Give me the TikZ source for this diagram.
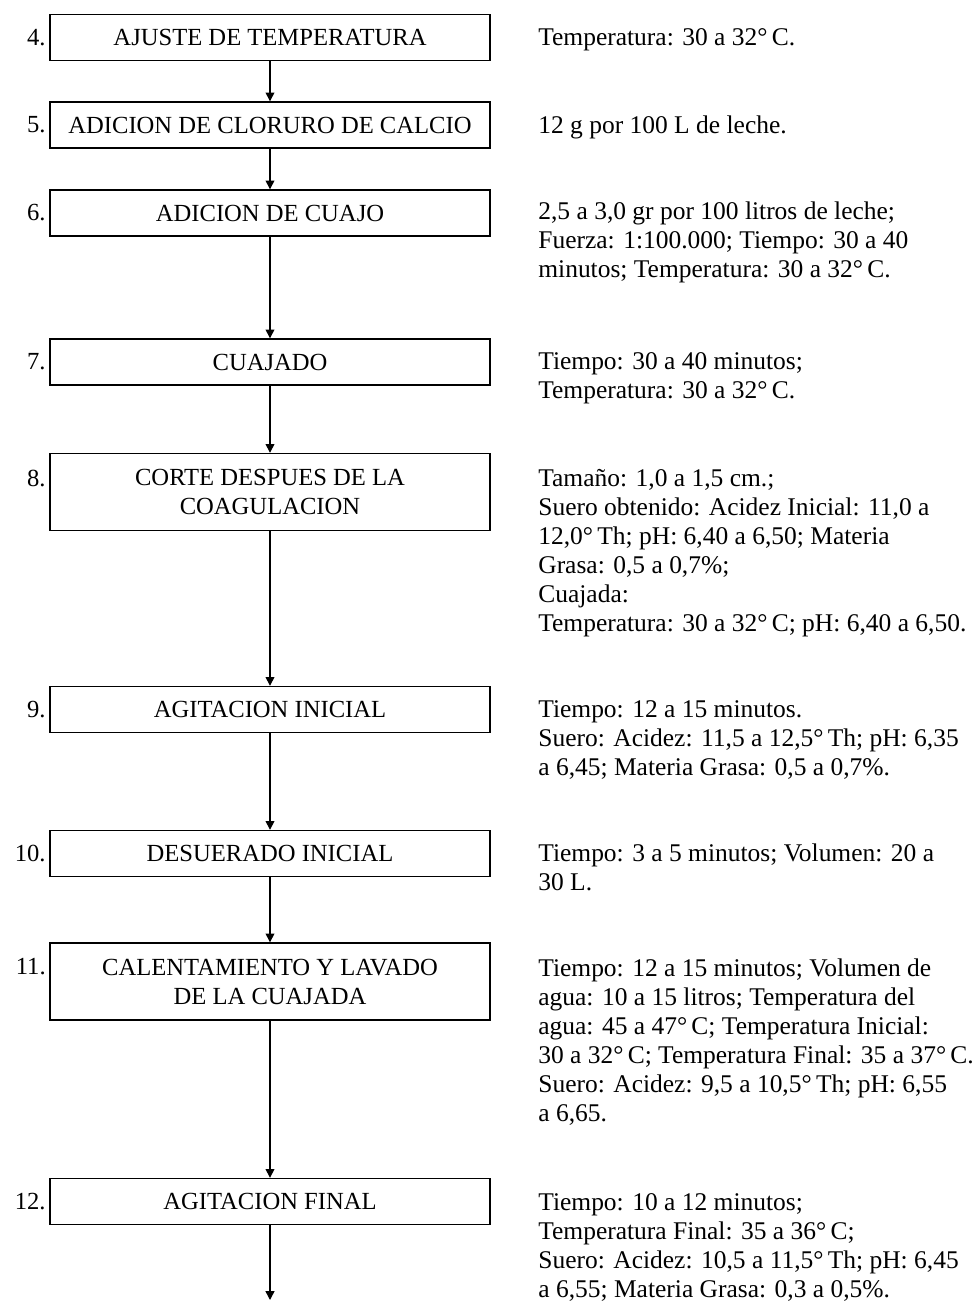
\documentclass[tikz,border=0pt]{standalone}
\usepackage{fontspec}
\setmainfont{Liberation Serif}
\usetikzlibrary{arrows.meta,positioning}

\begin{document}
\begin{tikzpicture}[
  stage/.style={rectangle, draw=black, line width=0.8pt, minimum width=8.8cm,
                minimum height=0.92cm, align=center, font=\fontsize{14}{16.5}\selectfont},
  tall/.style={minimum height=1.54cm},
  num/.style={anchor=east, inner sep=0pt, font=\fontsize{14}{16.5}\selectfont},
  info/.style={anchor=north west, inner sep=0pt, align=left, font=\fontsize{14.5}{16.5}\selectfont},
  arrow/.style={-{Triangle[length=5pt,width=5pt]}, line width=0.8pt}
]
\useasboundingbox (0,0) rectangle (19.5,-26.04);

% Process steps
\node[stage]       (s4)  at (5.4,-0.75)  {AJUSTE DE TEMPERATURA};
\node[stage]       (s5)  at (5.4,-2.5)   {ADICION DE CLORURO DE CALCIO};
\node[stage]       (s6)  at (5.4,-4.26)  {ADICION DE CUAJO};
\node[stage]       (s7)  at (5.4,-7.24)  {CUAJADO};
\node[stage,tall]  (s8)  at (5.4,-9.84)  {CORTE DESPUES DE LA\\COAGULACION};
\node[stage]       (s9)  at (5.4,-14.19) {AGITACION INICIAL};
\node[stage]       (s10) at (5.4,-17.07) {DESUERADO INICIAL};
\node[stage,tall]  (s11) at (5.4,-19.63) {CALENTAMIENTO Y LAVADO\\DE LA CUAJADA};
\node[stage]       (s12) at (5.4,-24.03) {AGITACION FINAL};
\coordinate (out) at (5.4,-26.0);

% Step numbers
\node[num] (n4)  at (0.92,-0.76)  {4.};
\node[num] (n5)  at (0.92,-2.5)   {5.};
\node[num] (n6)  at (0.92,-4.26)  {6.};
\node[num] (n7)  at (0.92,-7.24)  {7.};
\node[num] (n8)  at (0.92,-9.56)  {8.};
\node[num] (n9)  at (0.92,-14.19) {9.};
\node[num] (n10) at (0.92,-17.07) {10.};
\node[num] (n11) at (0.92,-19.34) {11.};
\node[num] (n12) at (0.92,-24.03) {12.};

% Conditions
\node[info] (d4)  at (10.76,-0.57)  {Temperatura: 30 a 32°\,C.};
\node[info] (d5)  at (10.76,-2.31)  {12 g por 100 L de leche.};
\node[info] (d6)  at (10.76,-4.03)  {2,5 a 3,0 gr por 100 litros de leche;\\
  Fuerza: 1:100.000; Tiempo: 30 a 40\\minutos; Temperatura: 30 a 32°\,C.};
\node[info] (d7)  at (10.76,-7.05)  {Tiempo: 30 a 40 minutos;\\Temperatura: 30 a 32°\,C.};
\node[info] (d8)  at (10.76,-9.37)  {Tamaño: 1,0 a 1,5 cm.;\\
  Suero obtenido: Acidez Inicial: 11,0 a\\12,0°\,Th; pH: 6,40 a 6,50; Materia\\
  Grasa: 0,5 a 0,7\%;\\Cuajada:\\Temperatura: 30 a 32°\,C; pH: 6,40 a 6,50.};
\node[info] (d9)  at (10.76,-14.01) {Tiempo: 12 a 15 minutos.\\
  Suero: Acidez: 11,5 a 12,5°\,Th; pH: 6,35\\a 6,45; Materia Grasa: 0,5 a 0,7\%.};
\node[info] (d10) at (10.76,-16.87) {Tiempo: 3 a 5 minutos; Volumen: 20 a\\30 L.};
\node[info] (d11) at (10.76,-19.17) {Tiempo: 12 a 15 minutos; Volumen de\\
  agua: 10 a 15 litros; Temperatura del\\agua: 45 a 47°\,C; Temperatura Inicial:\\
  30 a 32°\,C; Temperatura Final: 35 a 37°\,C.\\Suero: Acidez: 9,5 a 10,5°\,Th; pH: 6,55\\a 6,65.};
\node[info] (d12) at (10.76,-23.87) {Tiempo: 10 a 12 minutos;\\Temperatura Final: 35 a 36°\,C;\\
  Suero: Acidez: 10,5 a 11,5°\,Th; pH: 6,45\\a 6,55; Materia Grasa: 0,3 a 0,5\%.};

% Flow
\draw[arrow] (s4) -- (s5);
\draw[arrow] (s5) -- (s6);
\draw[arrow] (s6) -- (s7);
\draw[arrow] (s7) -- (s8);
\draw[arrow] (s8) -- (s9);
\draw[arrow] (s9) -- (s10);
\draw[arrow] (s10) -- (s11);
\draw[arrow] (s11) -- (s12);
\draw[arrow] (s12) -- (out);
\end{tikzpicture}
\end{document}
